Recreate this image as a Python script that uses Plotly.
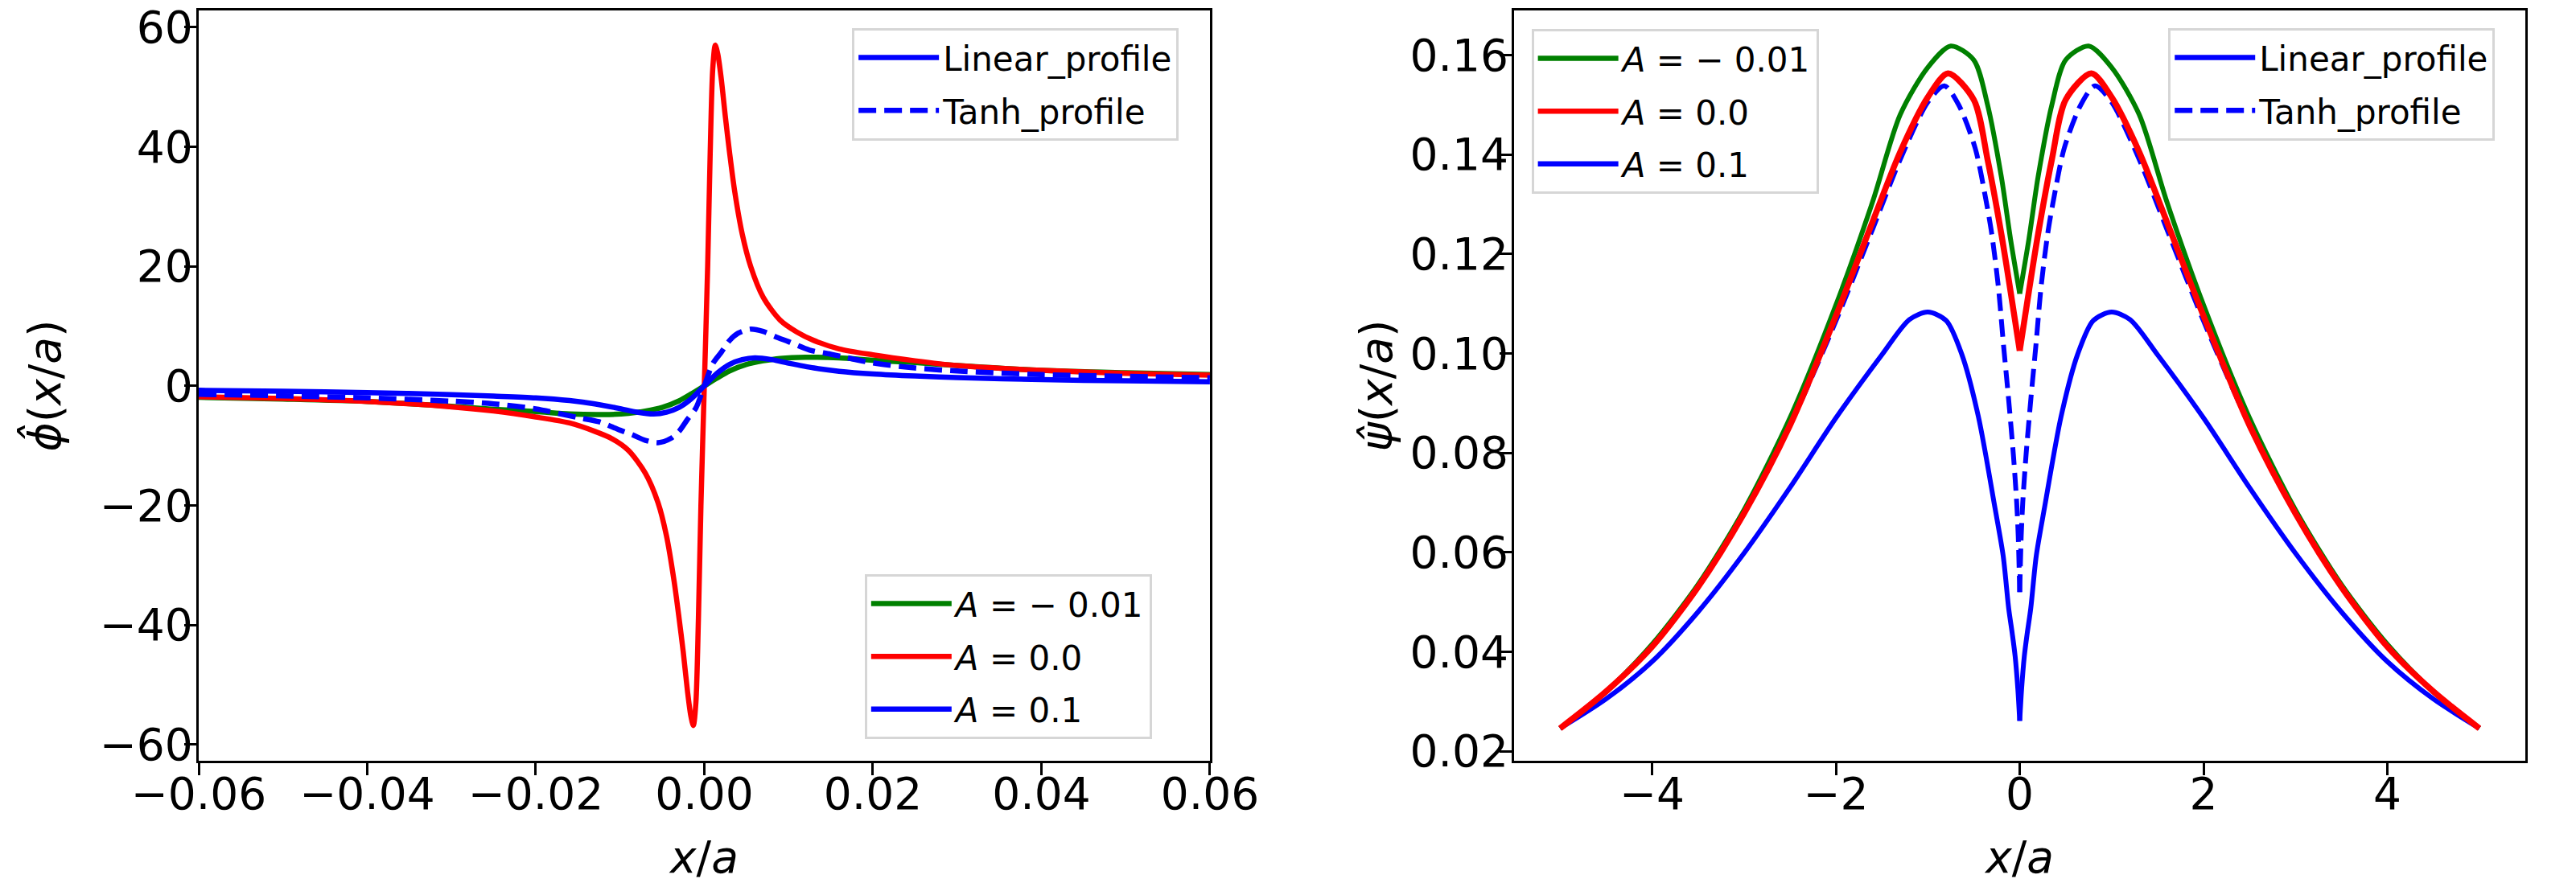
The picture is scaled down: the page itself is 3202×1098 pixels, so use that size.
import plotly.graph_objects as go

# ---------------- left panel data:  phi_hat(x/a) ----------------
left_x_red = [-0.06, -0.05, -0.04, -0.03, -0.025, -0.02, -0.016, -0.013, -0.011, -0.009,
              -0.007, -0.0055, -0.0045, -0.0036, -0.003, -0.0025, -0.002, -0.0016, -0.0013,
              -0.001, -0.0007, -0.0004, 0.0, 0.0004, 0.0007, 0.001, 0.0013, 0.0016, 0.002,
              0.0025, 0.003, 0.0036, 0.0045, 0.0055, 0.007, 0.009, 0.011, 0.013, 0.016,
              0.02, 0.025, 0.03, 0.04, 0.05, 0.06]
left_y_red = [-1.8, -2.1, -2.6, -3.5, -4.2, -5.2, -6.2, -7.6, -8.8, -10.8,
              -14.6, -19.5, -25.0, -32.5, -38.8, -44.5, -51.0, -55.2, -56.8,
              -53.0, -39.0, -20.0, 0.0, 20.0, 39.0, 53.0, 57.0, 55.5, 51.5,
              45.0, 39.0, 32.6, 25.4, 20.0, 14.8, 11.0, 9.0, 7.6, 6.2,
              5.2, 4.2, 3.4, 2.6, 2.1, 1.8]

left_x_green = [-0.06, -0.05, -0.04, -0.03, -0.025, -0.02, -0.016, -0.012, -0.009, -0.007,
                -0.005, -0.003, -0.0015, 0.0, 0.0015, 0.003, 0.005, 0.007, 0.009, 0.012,
                0.016, 0.02, 0.025, 0.03, 0.04, 0.05, 0.06]
left_y_green = [-1.9, -2.2, -2.6, -3.4, -3.9, -4.3, -4.7, -4.8, -4.6, -4.2,
                -3.6, -2.5, -1.3, 0.0, 1.3, 2.5, 3.6, 4.2, 4.6, 4.8,
                4.7, 4.3, 3.9, 3.4, 2.6, 2.2, 1.9]

left_x_blue = [-0.06, -0.05, -0.04, -0.03, -0.025, -0.02, -0.016, -0.013, -0.01, -0.008,
               -0.006, -0.0045, -0.003, -0.0015, 0.0, 0.0015, 0.003, 0.0045, 0.006, 0.008,
               0.01, 0.013, 0.016, 0.02, 0.025, 0.03, 0.04, 0.05, 0.06]
left_y_blue = [-0.73, -0.9, -1.12, -1.45, -1.7, -2.0, -2.45, -3.0, -3.8, -4.4,
               -4.7, -4.4, -3.6, -2.1, 0.0, 2.1, 3.6, 4.4, 4.7, 4.4,
               3.8, 3.0, 2.45, 2.0, 1.65, 1.4, 1.05, 0.85, 0.7]

left_x_tanh = [-0.06, -0.05, -0.04, -0.03, -0.025, -0.02, -0.015, -0.0125, -0.01, -0.0085,
               -0.007, -0.0055, -0.004, -0.003, -0.002, -0.001, 0.0, 0.001, 0.002, 0.003,
               0.004, 0.0055, 0.007, 0.0085, 0.01, 0.0125, 0.015, 0.02, 0.025, 0.03,
               0.04, 0.05, 0.06]
left_y_tanh = [-1.4, -1.65, -2.0, -2.55, -3.0, -3.85, -5.3, -6.0, -7.4, -8.2,
               -9.1, -9.5, -8.8, -7.6, -5.6, -3.7, 0.0, 3.7, 5.6, 7.6,
               8.8, 9.5, 9.1, 8.2, 7.4, 6.0, 5.3, 3.85, 3.0, 2.5,
               1.9, 1.6, 1.35]

# ---------------- right panel data:  psi_hat(x/a) ----------------
right_x_green = [-5.0, -4.5, -4.0, -3.5, -3.0, -2.5, -2.0, -1.6, -1.3, -1.0, -0.75, -0.5,
                 -0.35, -0.2, -0.1, 0.0, 0.1, 0.2, 0.35, 0.5, 0.75, 1.0, 1.3, 1.6,
                 2.0, 2.5, 3.0, 3.5, 4.0, 4.5, 5.0]
right_y_green = [0.0246, 0.032, 0.0415, 0.0535, 0.0685, 0.087, 0.1097, 0.1305, 0.148,
                 0.1575, 0.1618, 0.159, 0.150, 0.1355, 0.123, 0.112, 0.123, 0.1355, 0.150,
                 0.159, 0.1618, 0.1575, 0.148, 0.1305, 0.1097, 0.087, 0.0685, 0.0535,
                 0.0415, 0.032, 0.0246]

right_x_red = [-5.0, -4.5, -4.0, -3.5, -3.0, -2.5, -2.0, -1.6, -1.3, -1.0, -0.78, -0.5,
               -0.35, -0.2, -0.1, 0.0, 0.1, 0.2, 0.35, 0.5, 0.78, 1.0, 1.3, 1.6,
               2.0, 2.5, 3.0, 3.5, 4.0, 4.5, 5.0]
right_y_red = [0.0246, 0.032, 0.041, 0.053, 0.0678, 0.0855, 0.1075, 0.1265, 0.1405,
               0.1515, 0.1563, 0.151, 0.139, 0.124, 0.1125, 0.1005, 0.1125, 0.124, 0.139,
               0.151, 0.1563, 0.1515, 0.1405, 0.1265, 0.1075, 0.0855, 0.0678, 0.053,
               0.041, 0.032, 0.0246]

right_x_blue = [-5.0, -4.5, -4.0, -3.5, -3.0, -2.5, -2.0, -1.5, -1.2, -1.0, -0.8, -0.63,
                -0.45, -0.27, -0.18, -0.12, -0.08, -0.05, -0.02, 0.0, 0.02, 0.05, 0.08,
                0.12, 0.18, 0.27, 0.45, 0.63, 0.8, 1.0, 1.2, 1.5, 2.0, 2.5, 3.0, 3.5,
                4.0, 4.5, 5.0]
right_y_blue = [0.0246, 0.0305, 0.038, 0.048, 0.0598, 0.073, 0.087, 0.0997, 0.1068,
                0.1083, 0.1066, 0.0998, 0.0873, 0.069, 0.0593, 0.0487, 0.0435, 0.0391,
                0.0324, 0.0261, 0.0324, 0.0391, 0.0435, 0.0487, 0.0593, 0.069, 0.0873,
                0.0998, 0.1066, 0.1083, 0.1068, 0.0997, 0.087, 0.073, 0.0598, 0.048,
                0.038, 0.0305, 0.0246]

right_x_tanh = [-5.0, -4.5, -4.0, -3.5, -3.0, -2.5, -2.0, -1.6, -1.3, -1.0, -0.82, -0.665,
                -0.485, -0.376, -0.304, -0.232, -0.177, -0.123, -0.069, -0.033, -0.016,
                0.0, 0.016, 0.033, 0.069, 0.123, 0.177, 0.232, 0.304, 0.376, 0.485,
                0.665, 0.82, 1.0, 1.3, 1.6, 2.0, 2.5, 3.0, 3.5, 4.0, 4.5, 5.0]
right_y_tanh = [0.0246, 0.032, 0.041, 0.053, 0.0678, 0.0855, 0.1065, 0.125, 0.139,
                0.1505, 0.1538, 0.150, 0.1413, 0.1317, 0.124, 0.1133, 0.1018, 0.0912,
                0.0796, 0.070, 0.0632, 0.052, 0.0632, 0.070, 0.0796, 0.0912, 0.1018,
                0.1133, 0.124, 0.1317, 0.1413, 0.150, 0.1538, 0.1505, 0.139, 0.125,
                0.1065, 0.0855, 0.0678, 0.053, 0.041, 0.032, 0.0246]

# tick labels
left_x_ticks = [-0.06, -0.04, -0.02, 0.0, 0.02, 0.04, 0.06]
left_y_ticks = [-60, -40, -20, 0, 20, 40, 60]
right_x_ticks = [-4, -2, 0, 2, 4]
right_y_ticks = [0.02, 0.04, 0.06, 0.08, 0.10, 0.12, 0.14, 0.16]

a_labels = ["<i>A</i> = − 0.01", "<i>A</i> = 0.0", "<i>A</i> = 0.1"]
profile_labels = ["Linear_profile", "Tanh_profile"]
x_title = "<i>x</i>/<i>a</i>"
left_y_title = "<i>ϕ̂</i>(<i>x</i>/<i>a</i>)"
right_y_title = "<i>ψ̂</i>(<i>x</i>/<i>a</i>)"

GREEN, RED, BLUE = "#008000", "#ff0000", "#0000ff"
DASH = "22px,10px"
FONT = "DejaVu Sans"

fig = go.Figure()


def add_curve(xs, ys, color, width, dash, xa, ya, split_at_zero=False):
    """Add one curve; optionally split at x = 0 so the cusp stays sharp."""
    if split_at_zero:
        parts = [([x for x in xs if x <= 0], [y for x, y in zip(xs, ys) if x <= 0]),
                 ([x for x in xs if x >= 0], [y for x, y in zip(xs, ys) if x >= 0])]
    else:
        parts = [(xs, ys)]
    for px_, py_ in parts:
        fig.add_trace(go.Scatter(x=px_, y=py_, mode="lines",
                                 line=dict(color=color, width=width, dash=dash,
                                           shape="spline", smoothing=0.8),
                                 showlegend=False, hoverinfo="x+y",
                                 xaxis=xa, yaxis=ya))


# ---- left panel curves ----
add_curve(left_x_green, left_y_green, GREEN, 6.5, "solid", "x", "y")
add_curve(left_x_red, left_y_red, RED, 6.5, "solid", "x", "y")
add_curve(left_x_blue, left_y_blue, BLUE, 6.5, "solid", "x", "y")
add_curve(left_x_tanh, left_y_tanh, BLUE, 6.5, DASH, "x", "y")

# ---- right panel curves ----
add_curve(right_x_blue, right_y_blue, BLUE, 6, "solid", "x2", "y2", True)
add_curve(right_x_tanh, right_y_tanh, BLUE, 6, DASH, "x2", "y2", True)
add_curve(right_x_green, right_y_green, GREEN, 6, "solid", "x2", "y2", True)
add_curve(right_x_red, right_y_red, RED, 7.5, "solid", "x2", "y2", True)


# ---- legend entries ----
def legend_entry(name, color, dash, legend, group, xa, ya):
    fig.add_trace(go.Scatter(x=[None], y=[None], mode="lines", name=name,
                             line=dict(color=color, width=6.5, dash=dash),
                             legend=legend, legendgroup=group, xaxis=xa, yaxis=ya))


legend_entry(profile_labels[0], BLUE, "solid", "legend", "p1", "x", "y")
legend_entry(profile_labels[1], BLUE, DASH, "legend", "p2", "x", "y")
for lab, col, g in zip(a_labels, [GREEN, RED, BLUE], ["a1", "a2", "a3"]):
    legend_entry(lab, col, "solid", "legend2", "l" + g, "x", "y")
for lab, col, g in zip(a_labels, [GREEN, RED, BLUE], ["a1", "a2", "a3"]):
    legend_entry(lab, col, "solid", "legend3", "r" + g, "x2", "y2")
legend_entry(profile_labels[0], BLUE, "solid", "legend4", "q1", "x2", "y2")
legend_entry(profile_labels[1], BLUE, DASH, "legend4", "q2", "x2", "y2")

W, H = 3202, 1098
ML, MR, MT, MB = 247, 3, 2, 152
PW, PH = W - ML - MR, H - MT - MB


def px(xpix):
    return (xpix - ML) / PW


def py(ypix):
    return (H - MB - ypix) / PH


axis_common = dict(showline=True, linecolor="black", linewidth=3.3, mirror=True,
                   ticks="outside", ticklen=15, tickwidth=3.3, tickcolor="black",
                   showgrid=False, zeroline=False, ticklabeloverflow="allow",
                   tickfont=dict(family=FONT, size=55, color="black"),
                   title_font=dict(family=FONT, size=55, color="black"))

legend_common = dict(bgcolor="white", bordercolor="#d6d6d6", borderwidth=3,
                     font=dict(family=FONT, size=42, color="black"),
                     xanchor="left", yanchor="top", tracegroupgap=8,
                     itemwidth=100)

fig.update_layout(
    width=W, height=H,
    margin=dict(l=ML, r=MR, t=MT, b=MB),
    paper_bgcolor="white", plot_bgcolor="white",
    font=dict(family=FONT, color="black"),
    xaxis=dict(domain=[0, px(1530)], range=[-0.06, 0.06], tickvals=left_x_ticks,
               tickformat=".2f", anchor="y", ticklabelstandoff=-24,
               title=dict(text=x_title, standoff=38), **axis_common),
    yaxis=dict(domain=[0, 1], range=[-62.7, 62.8], tickvals=left_y_ticks, anchor="x",
               ticklabelstandoff=-22, **axis_common),
    xaxis2=dict(domain=[px(1916), 1], range=[-5.5, 5.5], tickvals=right_x_ticks,
                anchor="y2", ticklabelstandoff=-24,
                title=dict(text=x_title, standoff=38), **axis_common),
    yaxis2=dict(domain=[0, 1], range=[0.01808, 0.16895], tickvals=right_y_ticks,
                tickformat=".2f", anchor="x2", ticklabelstandoff=-22,
                title=dict(text=right_y_title, standoff=5), **axis_common),
    legend=dict(x=px(1076), y=py(24), **legend_common),
    legend2=dict(x=px(1092), y=py(711), **legend_common),
    legend3=dict(x=px(1938), y=py(25), **legend_common),
    legend4=dict(x=px(2746), y=py(24), **legend_common),
)

# left y-axis title (placed explicitly in the left margin)
fig.add_annotation(text=left_y_title, xref="paper", yref="paper",
                   x=px(50), y=0.5, xanchor="center", yanchor="middle",
                   textangle=-90, showarrow=False,
                   font=dict(family=FONT, size=55, color="black"))

fig.write_html("out.html")
